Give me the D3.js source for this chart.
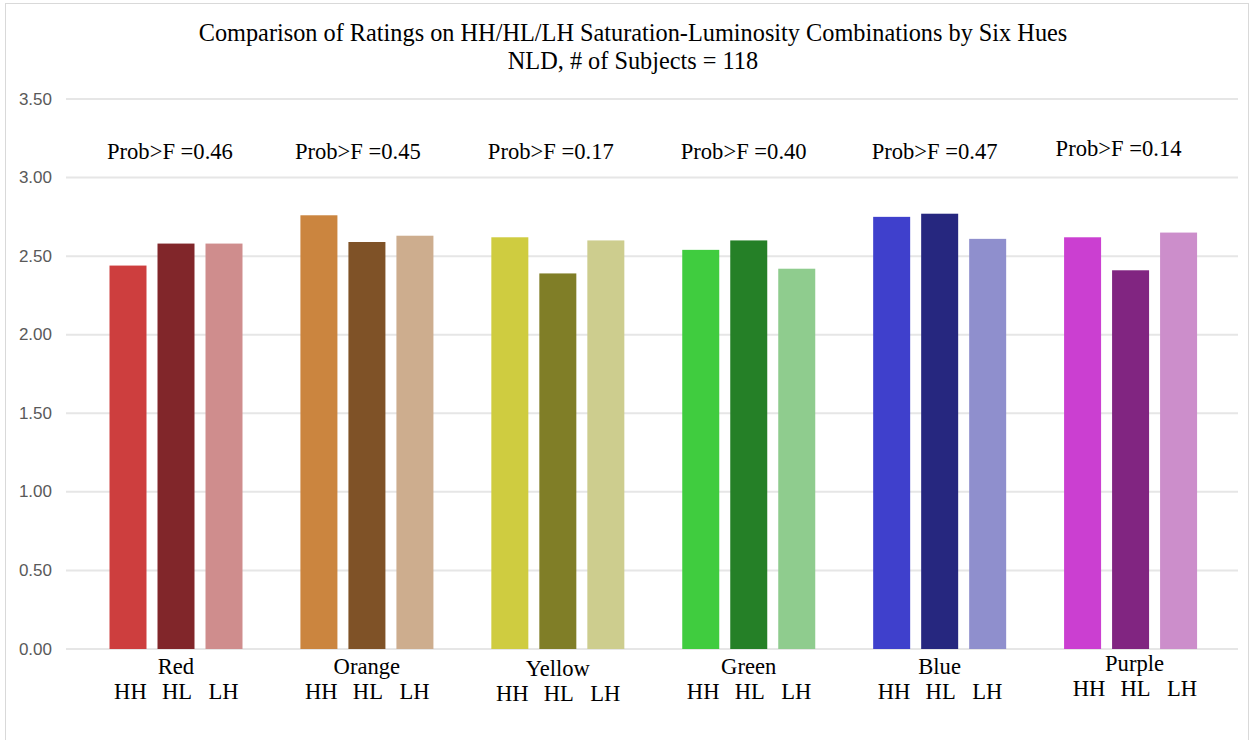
<!DOCTYPE html>
<html>
<head>
<meta charset="utf-8">
<script src="https://cdn.jsdelivr.net/npm/d3@7"></script>
<style>
  body { margin: 0; background: #fff; }
  svg { display: block; }
</style>
</head>
<body>
<svg id="chart"></svg>
<script>
// Data
const hues = ['Red', 'Orange', 'Yellow', 'Green', 'Blue', 'Purple'];
const combos = ['HH', 'HL', 'LH'];
const ratingsHH = [2.44, 2.76, 2.62, 2.54, 2.75, 2.62];
const ratingsHL = [2.58, 2.59, 2.39, 2.60, 2.77, 2.41];
const ratingsLH = [2.58, 2.63, 2.60, 2.42, 2.61, 2.65];
const probF = ['0.46', '0.45', '0.17', '0.40', '0.47', '0.14'];
const yTicks = [0, 0.5, 1, 1.5, 2, 2.5, 3, 3.5];

const barColors = {
  Red:    ['#cd3e3e', '#81262a', '#cf8d8d'],
  Orange: ['#cb853f', '#7f5227', '#cdad8e'],
  Yellow: ['#cfcc40', '#807e27', '#cdcd8e'],
  Green:  ['#40cc3f', '#258027', '#8fcc8e'],
  Blue:   ['#3f40cc', '#26277f', '#8f8fcd'],
  Purple: ['#cb3fd1', '#812581', '#cc8ecb']
};

// small hand nudges for the free-floating text boxes (dx, dy)
const probNudge = [[-6, 0], [-9, 0], [-7, 0], [-5, 0], [-5, 0], [-12, -3]];
const hueNudge = [[0, 0], [0, 0], [0, 2], [0, 0], [0, 0], [4, -3]];

const width = 1254, height = 740;
const serif = "'Liberation Serif', 'Times New Roman', serif";

const svg = d3.select('#chart')
  .attr('width', width)
  .attr('height', height);

// chart border
svg.append('rect')
  .attr('x', 5.5).attr('y', 3.5)
  .attr('width', 1243).attr('height', 760)
  .attr('fill', 'none')
  .attr('stroke', '#d9d9d9');

const rows = hues.map((h, i) => ({
  hue: h,
  values: [ratingsHH[i], ratingsHL[i], ratingsLH[i]]
}));

const x0 = d3.scaleBand()
  .domain(hues)
  .range([80.5, 1226]);

const x1 = d3.scaleBand()
  .domain(combos)
  .range([29, 162])
  .paddingInner(11 / 48);

const y = d3.scaleLinear()
  .domain([0, 3.5])
  .range([649, 99]);

// gridlines
svg.append('g')
  .selectAll('line')
  .data(yTicks)
  .join('line')
  .attr('x1', 66).attr('x2', 1238)
  .attr('y1', d => y(d)).attr('y2', d => y(d))
  .attr('stroke', '#e6e6e6')
  .attr('stroke-width', 2);

// y axis labels
svg.append('g')
  .selectAll('text')
  .data(yTicks)
  .join('text')
  .attr('x', 52)
  .attr('y', d => y(d))
  .attr('text-anchor', 'end')
  .attr('dominant-baseline', 'central')
  .style('font-family', "'Liberation Sans', Arial, sans-serif")
  .style('font-size', '17px')
  .style('fill', '#595959')
  .text(d => d.toFixed(2));

// bars
const groups = svg.append('g')
  .selectAll('g')
  .data(rows)
  .join('g')
  .attr('transform', d => `translate(${x0(d.hue)},0)`);

groups.selectAll('rect')
  .data(d => d.values.map((v, j) => ({ hue: d.hue, combo: combos[j], value: v, color: barColors[d.hue][j] })))
  .join('rect')
  .attr('x', d => x1(d.combo))
  .attr('y', d => y(d.value))
  .attr('width', x1.bandwidth())
  .attr('height', d => y(0) - y(d.value))
  .attr('fill', d => d.color);

// hue names
groups.append('text')
  .attr('x', (d, i) => x0.bandwidth() / 2 + hueNudge[i][0])
  .attr('y', (d, i) => 666 + hueNudge[i][1])
  .attr('text-anchor', 'middle')
  .attr('dominant-baseline', 'central')
  .style('font-family', serif)
  .style('font-size', '22.6px')
  .style('fill', '#000')
  .text(d => d.hue);

// combo labels, pulled slightly toward the group centre
const mid = x0.bandwidth() / 2;
groups.each(function (d, i) {
  d3.select(this).selectAll('text.combo')
    .data(combos)
    .join('text')
    .attr('class', 'combo')
    .attr('x', c => mid + (x1(c) + x1.bandwidth() / 2 - mid) * 0.97 + 1 + hueNudge[i][0])
    .attr('y', 691 + hueNudge[i][1])
    .attr('text-anchor', 'middle')
    .attr('dominant-baseline', 'central')
    .style('font-family', serif)
    .style('font-size', '22.6px')
    .style('fill', '#000')
    .text(c => c);
});

// Prob>F annotations
groups.append('text')
  .attr('x', (d, i) => mid + probNudge[i][0])
  .attr('y', (d, i) => 151 + probNudge[i][1])
  .attr('text-anchor', 'middle')
  .attr('dominant-baseline', 'central')
  .style('font-family', serif)
  .style('font-size', '22.6px')
  .style('fill', '#000')
  .text((d, i) => `Prob>F =${probF[i]}`);

// title
const title = svg.append('text')
  .attr('x', 633)
  .attr('text-anchor', 'middle')
  .style('font-family', serif)
  .style('font-size', '24.3px')
  .style('fill', '#000');

title.append('tspan')
  .attr('x', 633).attr('y', 41)
  .text('Comparison of Ratings on HH/HL/LH Saturation-Luminosity Combinations by Six Hues');
title.append('tspan')
  .attr('x', 633).attr('y', 69)
  .text('NLD, # of Subjects = 118');
</script>
</body>
</html>
